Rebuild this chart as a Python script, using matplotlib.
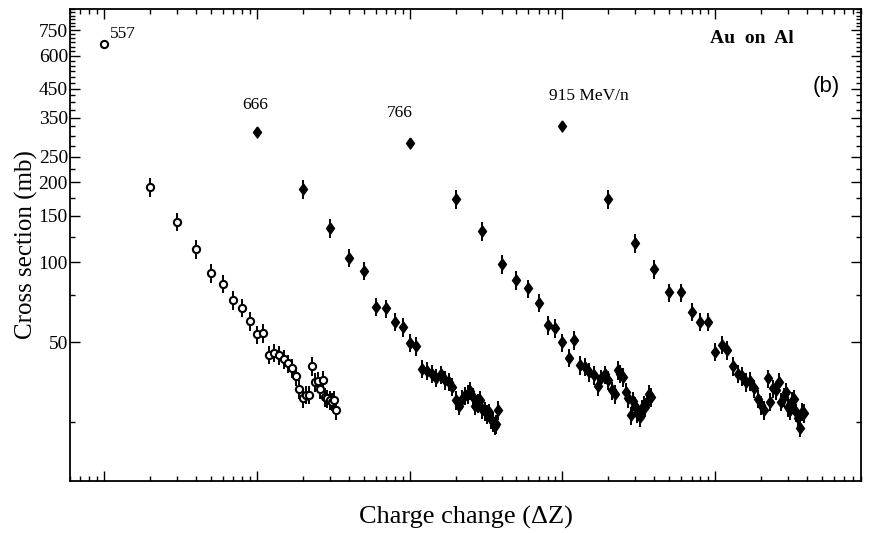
import numpy as np
import matplotlib
matplotlib.use("Agg")
import matplotlib.pyplot as plt
from matplotlib.ticker import LogLocator, NullFormatter, FixedLocator, FixedFormatter

# Charge-changing cross sections, Au projectiles on an Al target.
# Each beam energy is shifted along the log x axis by one decade.
energies = ["557", "666", "766", "915 MeV/n"]
offsets = [1, 10, 100, 1000]

sigma_557 = [664, 192, 142, 112, 91, 83, 72, 67.5, 60, 53.5, 54, 44.9, 45.7, 44.7,
             43.2, 41.6, 40.0, 37.3, 33.3, 30.8, 31.7, 31.7, 40.6, 35.4, 35.6,
             33.3, 36.1, 31.1, 30.7, 30.3, 29.8, 30.3, 27.7]

sigma_666 = [310, 189, 134.5, 104, 93, 68, 67, 59.8, 57, 49.8, 48.4, 39.8, 39.0,
             38.1, 36.7, 37.8, 36.0, 35.5, 34.0, 30.2, 28.8, 30.5, 31.5, 31.9,
             32.8, 31.0, 28.8, 29.5, 30.2, 28.0, 27.5, 26.8, 27.2, 25.7, 25.0,
             24.2, 24.6, 27.7]

sigma_766 = [282, 173, 131, 98.3, 85.5, 79.7, 70.5, 58.1, 56.4, 49.9, 43.7, 51.0,
             41.0, 40.4, 38.6, 37.5, 34.2, 36.5, 37.8, 36.0, 32.9, 31.9, 39.2,
             38.1, 37.0, 32.5, 30.7, 26.5, 30.0, 28.8, 27.0, 26.1, 28.0, 29.0,
             28.5, 29.8, 32.0, 31.0]

sigma_915 = [325, 173, 118, 94.1, 77, 77, 65.2, 59.8, 59.8, 46.0, 49.0, 46.7, 40.6,
             38.1, 37.3, 35.4, 35.6, 33.5, 30.6, 29.0, 27.7, 36.5, 29.8, 33.5,
             32.9, 35.4, 29.8, 31.0, 32.6, 28.5, 27.7, 30.0, 30.5, 27.2, 26.0,
             23.8, 27.4, 27.0]

series = [sigma_557, sigma_666, sigma_766, sigma_915]
rel_err = 0.08          # relative uncertainty of the tail points
rel_err_first = 0.03    # ΔZ = 1 points

ytick_values = [50, 100, 150, 200, 250, 350, 450, 600, 750]

plt.rcParams["font.family"] = ["Liberation Serif", "DejaVu Serif"]

fig = plt.figure(figsize=(8.69, 5.33), dpi=100)
ax = fig.add_axes([70 / 869, 1 - 481 / 533, 791 / 869, 472 / 533])

diamond = [(0, 1), (0.72, 0), (0, -1), (-0.72, 0), (0, 1)]

for i, (vals, off) in enumerate(zip(series, offsets)):
    vals = np.asarray(vals, dtype=float)
    dz = np.arange(1, len(vals) + 1)
    x = dz * off
    err = vals * rel_err
    err[0] = vals[0] * rel_err_first
    if i == 0:
        ax.errorbar(x, vals, yerr=err, fmt="o", ms=5.2, mfc="white", mec="black",
                    mew=1.5, ecolor="black", elinewidth=1.4, capsize=0, zorder=3)
    else:
        ax.errorbar(x, vals, yerr=err, fmt="none", ecolor="black",
                    elinewidth=1.4, capsize=0, zorder=2)
        ax.plot(x, vals, linestyle="none", marker=diamond, ms=8,
                color="black", zorder=3)

ax.set_xscale("log")
ax.set_yscale("log")
ax.set_xlim(0.6, 9.0e4)
ax.set_ylim(15, 900)

ax.xaxis.set_major_locator(LogLocator(base=10, numticks=20))
ax.xaxis.set_minor_locator(LogLocator(base=10, subs=np.arange(2, 10), numticks=20))
ax.xaxis.set_major_formatter(NullFormatter())
ax.xaxis.set_minor_formatter(NullFormatter())

minor_y = [v for v in range(25, 901, 25) if v not in ytick_values]
ax.yaxis.set_major_locator(FixedLocator(ytick_values))
ax.yaxis.set_major_formatter(FixedFormatter([str(v) for v in ytick_values]))
ax.yaxis.set_minor_locator(FixedLocator(minor_y))
ax.yaxis.set_minor_formatter(NullFormatter())

ax.tick_params(which="both", direction="in", top=True, right=True, width=1.0)
ax.tick_params(which="major", length=7, labelsize=14, pad=1.5)
ax.tick_params(which="minor", length=3.5)
for s in ax.spines.values():
    s.set_linewidth(1.3)

ax.set_ylabel("Cross section (mb)", fontsize=18)
ax.set_xlabel("Charge change (ΔZ)", fontsize=19)
ax.yaxis.set_label_coords(-0.040, 0.5)
ax.xaxis.set_label_coords(0.5, -0.052)

# energy labels next to the ΔZ = 1 point of each run
ax.text(1.10, 700, energies[0], fontsize=12.5, ha="left", va="baseline")
ax.text(9.7, 379, energies[1], fontsize=12.5, ha="center", va="baseline")
ax.text(86, 354, energies[2], fontsize=12.5, ha="center", va="baseline")
ax.text(812, 407, energies[3], fontsize=12.5, ha="left", va="baseline")

ax.text(0.809, 0.928, "Au  on  Al", transform=ax.transAxes, fontsize=14,
        fontweight="bold", ha="left", va="baseline")
ax.text(0.939, 0.835, "(b)", transform=ax.transAxes, fontsize=16,
        family="Liberation Sans", ha="left", va="center")

fig.savefig("out.png", dpi=100)
